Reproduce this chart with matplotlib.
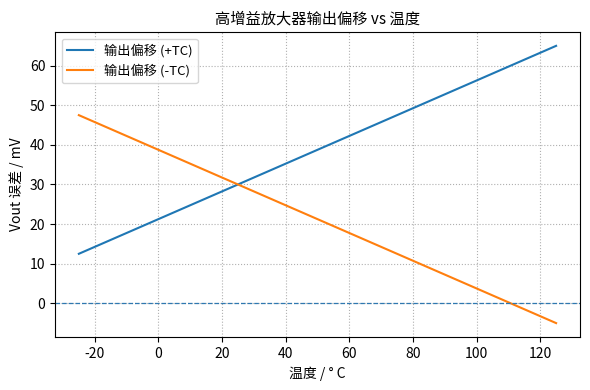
import matplotlib
matplotlib.use("Agg")
import matplotlib.pyplot as plt
import numpy as np

plt.rcParams['font.family'] = ['Noto Sans CJK SC', 'DejaVu Sans']
plt.rcParams['axes.unicode_minus'] = False

temps = [-25, 125]
pos_tc = [12.5, 65.0]
neg_tc = [47.5, -5.0]
labels = ['输出偏移 (+TC)', '输出偏移 (-TC)']

fig = plt.figure(figsize=(5.9, 3.9), dpi=100)
ax = fig.add_axes([0.0932, 0.136, 0.983 - 0.0932, 0.918 - 0.136])
ax.plot(temps, pos_tc, color='#1f77b4', lw=1.5, label=labels[0])
ax.plot(temps, neg_tc, color='#ff7f0e', lw=1.5, label=labels[1])
ax.axhline(0, color='#2f78b0', lw=0.9, ls='--')
ax.set_xlim(-32.5, 132.5)
ax.set_ylim(-8.5, 68.5)
ax.set_xticks(np.arange(-20, 121, 20))
ax.set_yticks(np.arange(0, 61, 10))
ax.grid(True, ls=':', color='#b0b0b0', lw=0.8)
ax.set_title('高增益放大器输出偏移 vs 温度', fontsize=11)
ax.set_xlabel('温度 / ° C', fontsize=10)
ax.set_ylabel('Vout 误差 / mV', fontsize=10)
ax.tick_params(labelsize=10)
ax.legend(loc='upper left', fontsize=9.5)
fig.savefig('out.png', dpi=100)
